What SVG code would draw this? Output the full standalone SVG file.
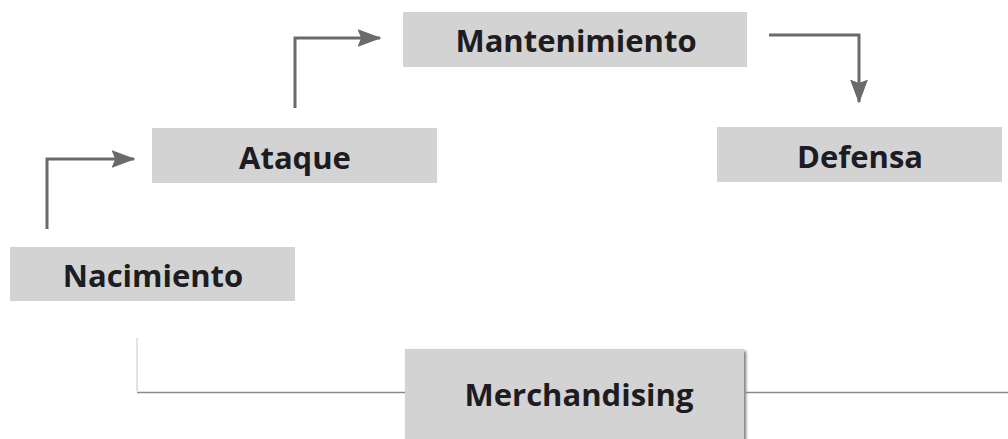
<svg xmlns="http://www.w3.org/2000/svg" width="1008" height="439" viewBox="0 0 1008 439">
<style>
.box{fill:#d3d3d3}
.lbl{font-family:"Open Sans","Noto Sans","Liberation Sans",sans-serif;font-weight:700;font-size:31px;fill:#1c1c22;text-anchor:middle}
.arr{fill:none;stroke:#6a6a6a;stroke-width:3}
.base{fill:none;stroke:#8a8a8a;stroke-width:1.5}
.faint{fill:none;stroke:#d8d8d8;stroke-width:1.5}
</style>
<defs>
<marker id="ah" markerWidth="8" markerHeight="6" refX="7.5" refY="3" orient="auto" markerUnits="strokeWidth">
<path d="M0,0 L8,3 L0,6 L1.2,3 Z" fill="#6a6a6a"/>
</marker>
<filter id="sh" x="-5%" y="-10%" width="115%" height="130%">
<feGaussianBlur in="SourceAlpha" stdDeviation="1.5"/>
<feOffset dx="2" dy="2" result="b"/>
<feFlood flood-color="#555" flood-opacity="0.8"/>
<feComposite in2="b" operator="in"/>
<feMerge><feMergeNode/><feMergeNode in="SourceGraphic"/></feMerge>
</filter>
</defs>
<g id="connectors">
<path class="arr" d="M47,229 V159 H134" marker-end="url(#ah)"/>
<path class="arr" d="M295,108 V38 H380" marker-end="url(#ah)"/>
<path class="arr" d="M769,35 H859 V102" marker-end="url(#ah)"/>
<path class="faint" d="M137,338 V391"/>
<path class="base" d="M137,392.5 H406"/>
<path class="base" d="M746,392.5 H1008"/>
</g>
<g id="nacimiento">
<rect class="box" x="10" y="247" width="285" height="54"/>
<text class="lbl" x="153" y="287">Nacimiento</text>
</g>
<g id="ataque">
<rect class="box" x="152" y="128" width="285" height="55"/>
<text class="lbl" x="295" y="169">Ataque</text>
</g>
<g id="mantenimiento">
<rect class="box" x="403" y="12" width="344" height="55"/>
<text class="lbl" x="576" y="52">Mantenimiento</text>
</g>
<g id="defensa">
<rect class="box" x="717" y="127" width="285" height="55"/>
<text class="lbl" x="860" y="168">Defensa</text>
</g>
<g id="merchandising">
<rect class="box" x="405" y="349" width="339" height="92" filter="url(#sh)"/>
<text class="lbl" x="579" y="406">Merchandising</text>
</g>
</svg>
